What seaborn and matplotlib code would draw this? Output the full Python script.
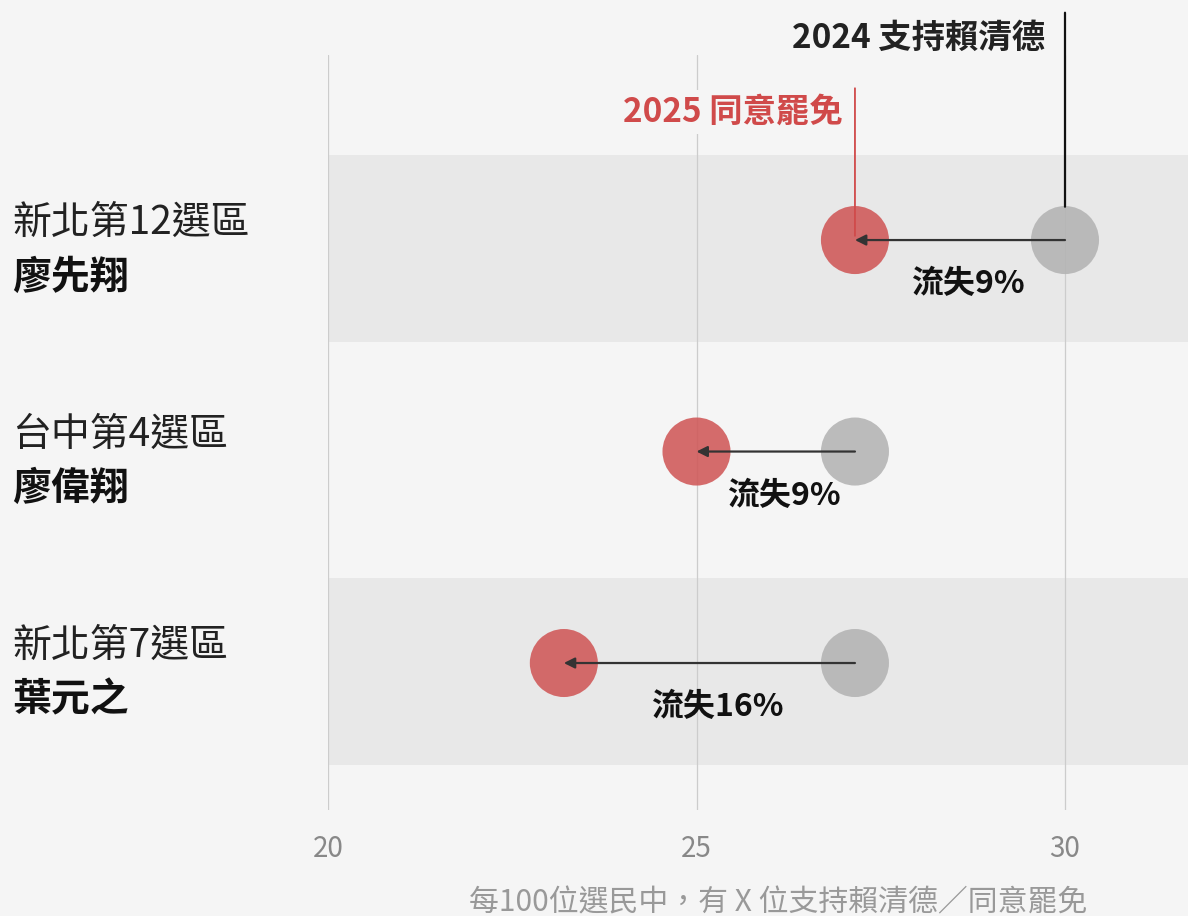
import pandas as pd
import matplotlib.pyplot as plt
import matplotlib.transforms as mtransforms
import seaborn as sns

# datos
districts = ['新北第12選區', '台中第4選區', '新北第7選區']
names = ['廖先翔', '廖偉翔', '葉元之']
support_2024 = [30.0, 27.15, 27.15]
recall_2025 = [27.15, 25.0, 23.2]
loss_labels = ['流失9%', '流失9%', '流失16%']
xticks = [20, 25, 30]
xlabel = '每100位選民中，有 X 位支持賴清德／同意罷免'
label_2024 = '2024 支持賴清德'
label_2025 = '2025 同意罷免'

rows = list(range(len(districts)))
df = pd.DataFrame({
    'row': rows * 2,
    'valor': support_2024 + recall_2025,
    'serie': ['2024'] * len(rows) + ['2025'] * len(rows),
})

bg = '#f5f5f5'
sns.set_theme(style='white', rc={'axes.facecolor': bg, 'figure.facecolor': bg})
plt.rcParams['font.family'] = ['Noto Sans CJK TC', 'DejaVu Sans']

fig = plt.figure(figsize=(11.88, 9.16), dpi=100)
ax = fig.add_axes([328 / 1188, 1 - 810 / 916, 860 / 1188, 755 / 916])

# franjas alternas
for r in rows[::2]:
    ax.axhspan(r - 0.40, r + 0.48, color='#e8e8e8', lw=0, zorder=0)

for t in xticks:
    ax.axvline(t, color='#cccccc', lw=0.9, zorder=1)

sns.scatterplot(data=df, x='valor', y='row', hue='serie',
                palette={'2024': '#b3b3b3', '2025': '#d05858'},
                s=2400, alpha=0.88, linewidth=0, legend=False, ax=ax, zorder=2)

# flechas y etiquetas de pérdida
for r in rows:
    ax.annotate('', xy=(recall_2025[r], r), xytext=(support_2024[r], r),
                arrowprops=dict(arrowstyle='-|>', color='#333333', lw=1.6,
                                mutation_scale=16, shrinkA=0, shrinkB=0),
                zorder=4)
    mid = (recall_2025[r] + support_2024[r]) / 2
    ax.annotate(loss_labels[r], xy=(mid, r), xytext=(6, -32),
                textcoords='offset points', ha='center', va='center',
                fontsize=23, fontweight='bold', color='#111111')

# rótulos de series
ax.annotate('', xy=(support_2024[0], 0), xytext=(support_2024[0], 1.056),
            textcoords=('data', 'axes fraction'),
            arrowprops=dict(arrowstyle='-', color='#111111', lw=1.6,
                            shrinkA=0, shrinkB=24), annotation_clip=False)
ax.annotate(label_2024, xy=(support_2024[0], 1.0225),
            xycoords=('data', 'axes fraction'), xytext=(-14, 0),
            textcoords='offset points', ha='right', va='center',
            fontsize=24, fontweight='bold', color='#222222',
            annotation_clip=False)
ax.annotate('', xy=(recall_2025[0], -0.02), xytext=(recall_2025[0], 0.956),
            textcoords=('data', 'axes fraction'),
            arrowprops=dict(arrowstyle='-', color='#d04a4a', lw=1.3,
                            shrinkA=0, shrinkB=0), zorder=5)
ax.annotate(label_2025, xy=(recall_2025[0], 0.9245),
            xycoords=('data', 'axes fraction'), xytext=(-9, 0),
            textcoords='offset points', ha='right', va='center',
            fontsize=24, fontweight='bold', color='#d04a4a',
            bbox=dict(facecolor=bg, edgecolor='none', pad=4), zorder=5)

# nombres a la izquierda
trans = mtransforms.blended_transform_factory(fig.transFigure, ax.transData)
for r in rows:
    ax.text(12 / 1188, r - 0.08, districts[r], transform=trans, ha='left',
            va='center', fontsize=28, color='#222222')
    ax.text(12 / 1188, r + 0.175, names[r], transform=trans, ha='left',
            va='center', fontsize=28, fontweight='bold', color='#111111')

ax.set_xlim(20, 20 + 860 / 73.7)
ax.set_ylim(2.695, -0.875)
ax.set_xticks(xticks)
ax.set_xticklabels([str(t) for t in xticks])
ax.set_yticks([])
ax.set_ylabel('')
ax.tick_params(axis='x', length=0, pad=17, labelsize=20, labelcolor='#888888')
ax.set_xlabel(xlabel, fontsize=21.5, color='#999999')
ax.xaxis.set_label_coords(0.523, -0.102)
sns.despine(ax=ax, left=True, bottom=True)

fig.savefig('out.png', dpi=100, facecolor=fig.get_facecolor())
plt.close()
